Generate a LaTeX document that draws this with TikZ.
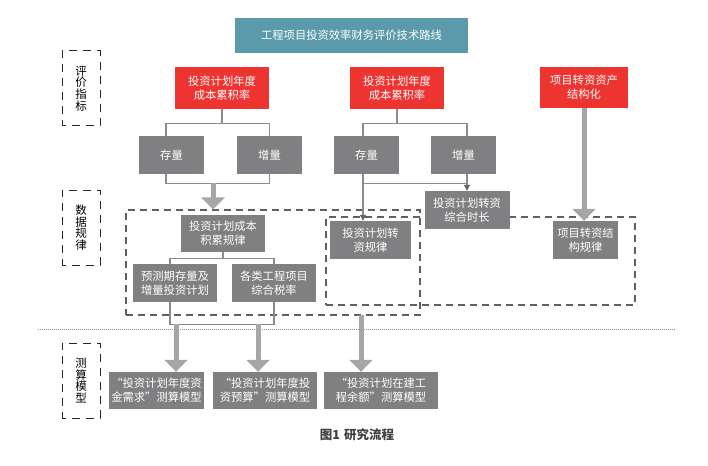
\documentclass[tikz,border=0pt]{standalone}
\usepackage{fontspec}
\setmainfont{Noto Sans CJK SC}
\usetikzlibrary{arrows.meta,calc}
\definecolor{tealc}{HTML}{5B9AAA}
\definecolor{redc}{HTML}{ED3430}
\definecolor{grayc}{HTML}{808082}
\definecolor{linec}{HTML}{8C8C8C}
\definecolor{arrc}{HTML}{A6A6A8}
\definecolor{dashc}{HTML}{606060}
\definecolor{capc}{HTML}{404040}
\begin{document}
\begin{tikzpicture}[x=1pt,y=-1pt,
  boxfont/.style={font=\fontsize{11.3}{14}\selectfont},
  tbox/.style={fill=tealc,text=white,inner sep=0,minimum width=233pt,minimum height=35pt,boxfont},
  redbox/.style={fill=redc,text=white,align=center,inner sep=0,boxfont},
  gbox/.style={fill=grayc,text=white,align=center,inner sep=0,boxfont},
  lab/.style={draw=black!85,line width=1pt,dash pattern=on 8pt off 6pt,dash phase=4pt,minimum width=38pt,minimum height=75pt,align=center,inner sep=0,font=\fontsize{11.5}{11.7}\selectfont},
  region/.style={draw=dashc,line width=1.2pt,dash pattern=on 7pt off 5pt,inner sep=0},
  ln/.style={draw=linec,line width=1.2pt},
  tarr/.style={draw=arrc,line width=5pt,-{Triangle[length=12pt,width=23pt]}},
  sarr/.style={draw=linec,line width=1.2pt,-{Triangle[length=6pt,width=6pt,color=black!60]}},
  dotline/.style={draw=black!45,line width=0.8pt,dash pattern=on 1pt off 1pt}
]
\useasboundingbox (0,0) rectangle (708,465);

% dashed regions
\node[region,minimum width=294pt,minimum height=105pt] (ra) at (273,262.5) {};
\node[region,minimum width=309pt,minimum height=88pt] (rb) at (480.5,261) {};

% separator
\coordinate (dl) at (38,329);
\coordinate (dr) at (676,329);
\draw[dotline] (dl) -- (dr);

% left labels
\node[lab] (l1) at (81,88.5) {评\\价\\指\\标};
\node[lab] (l2) at (81,227.5) {数\\据\\规\\律};
\node[lab] (l3) at (81,380.5) {测\\算\\模\\型};

% title
\node[tbox] (title) at (351.5,35.5) {工程项目投资效率财务评价技术路线};

% red boxes
\node[redbox,minimum width=94pt,minimum height=42pt] (r1) at (222,88) {投资计划年度\\成本累积率};
\node[redbox,minimum width=94pt,minimum height=42pt] (r2) at (397,88) {投资计划年度\\成本累积率};
\node[redbox,minimum width=88pt,minimum height=41pt] (r3) at (584,87.5) {项目转资资产\\结构化};

% gray boxes row 1
\node[gbox,minimum width=65pt,minimum height=38pt] (s1) at (171.5,155) {存量};
\node[gbox,minimum width=65pt,minimum height=38pt] (z1) at (269.5,155) {增量};
\node[gbox,minimum width=65pt,minimum height=38pt] (s2) at (366.5,155) {存量};
\node[gbox,minimum width=65pt,minimum height=38pt] (z2) at (463.5,155) {增量};

% middle boxes
\node[gbox,minimum width=84pt,minimum height=37pt] (cl) at (223,233.5) {投资计划成本\\积累规律};
\node[gbox,minimum width=84pt,minimum height=38pt] (yc) at (175,283) {预测期存量及\\增量投资计划};
\node[gbox,minimum width=84pt,minimum height=38pt] (gs) at (274,283) {各类工程项目\\综合税率};
\node[gbox,minimum width=81pt,minimum height=38pt] (zg) at (370.5,240) {投资计划转\\资规律};
\node[gbox,minimum width=85pt,minimum height=38pt] (sc) at (467,210) {投资计划转资\\综合时长};
\node[gbox,minimum width=65pt,minimum height=38pt] (jg) at (585.5,240) {项目转资结\\构规律};

% bottom boxes
\node[gbox,minimum width=95pt,minimum height=37pt] (m1) at (156.5,390.5) {“投资计划年度资\\金需求”测算模型};
\node[gbox,minimum width=104pt,minimum height=37pt] (m2) at (265,390.5) {“投资计划年度投\\资预算”测算模型};
\node[gbox,minimum width=114pt,minimum height=37pt] (m3) at (381,390.5) {“投资计划在建工\\程余额”测算模型};

% caption
\node[font=\fontsize{12.5}{14}\selectfont\bfseries,text=capc,inner sep=0] (cap) at (357,435) {图1\hspace{4pt}研究流程};

% column 1 connectors
\draw[ln] (r1.south) -- ++(0,14) coordinate (j1);
\draw[ln] ($(s1.north)+(-5.5,0)$) |- (j1) -| (z1.north);
\draw[ln] ($(s1.south)+(-5.5,0)$) -- ++(0,9) coordinate (k1) -| (z1.south);
\coordinate (t1) at ($(k1)+(47,0)$);
\draw[tarr] (t1) -- (t1 |- ra.north);

% column 2 connectors
\draw[ln] (r2.south) -- ++(0,14) coordinate (j2);
\draw[ln] ($(s2.north)+(-3.5,0)$) |- (j2) -| ($(z2.north)+(3.5,0)$);
\coordinate (p2) at ($(s2.south)+(-3.5,0)$);
\draw[sarr] (p2) -- (p2 |- zg.north);
\draw[sarr] ($(z2.south)+(3.5,0)$) -- (sc.north);
\draw[ln] ($(p2)+(0,9)$) -- ($(z2.south)+(3.5,9)$);

% column 3
\draw[tarr] (r3.south) -- (r3.south |- jg.north);

% lower connectors
\draw[ln] (cl.south) -- ++(0,6) coordinate (j3);
\draw[ln] ($(yc.north)+(-5,0)$) |- (j3) -| (gs.north);
\draw[ln] ($(yc.south)+(-5,0)$) -- ++(0,22) coordinate (k3) -| (gs.south);
\coordinate (u1) at ($(k3)+(6,0)$);
\coordinate (u2) at ($(k3)+(88,0)$);
\draw[tarr] (u1) -- (u1 |- m1.north);
\draw[tarr] (u2) -- (u2 |- m2.north);
\coordinate (u3) at (361,315);
\draw[tarr] (u3) -- (u3 |- m3.north);
\end{tikzpicture}
\end{document}
